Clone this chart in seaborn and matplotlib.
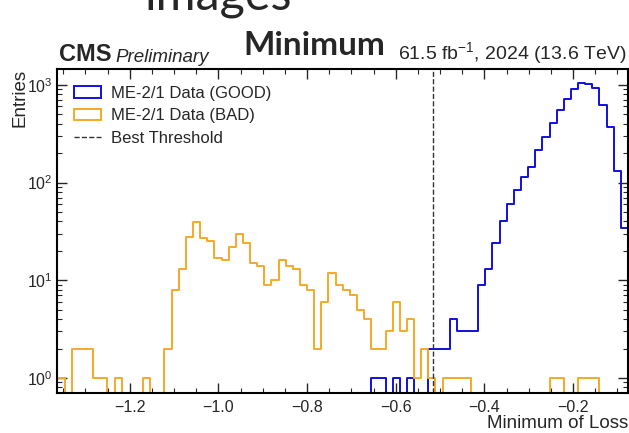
import numpy as np
import pandas as pd
import matplotlib
matplotlib.use("Agg")
import matplotlib.pyplot as plt
import matplotlib.ticker as mticker
from matplotlib.patches import Patch
from matplotlib.lines import Line2D
import seaborn as sns

# histogram binning (80 equal bins over the plotted range)
X_LO, X_HI, N_BINS = -1.363, -0.076, 80
THRESHOLD = -0.516

# entries per bin
good_counts = [0, 0, 0, 0, 0, 0, 0, 0, 0, 0,
               0, 0, 0, 0, 0, 0, 0, 0, 0, 0,
               0, 0, 0, 0, 0, 0, 0, 0, 0, 0,
               0, 0, 0, 0, 0, 0, 0, 0, 0, 0,
               0, 0, 0, 0, 1, 1, 0, 1, 0, 1,
               0, 0, 2, 2, 2, 4, 3, 3, 3, 9,
               13, 24, 40, 60, 84, 113, 145, 214, 295, 405,
               550, 717, 908, 1045, 1021, 936, 627, 373, 130, 34]
bad_counts = [1, 0, 2, 2, 2, 1, 1, 0, 1, 0,
              0, 0, 1, 0, 0, 2, 8, 13, 28, 39,
              27, 25, 17, 16, 22, 30, 24, 15, 14, 9,
              10, 16, 14, 13, 9, 8, 2, 6, 12, 9,
              8, 7, 5, 4, 2, 2, 3, 6, 3, 4,
              1, 2, 1, 0, 1, 1, 1, 1, 0, 0,
              0, 0, 0, 0, 0, 0, 0, 0, 0, 1,
              1, 0, 0, 1, 1, 1, 0, 0, 0, 0]

labels = ["ME-2/1 Data (GOOD)", "ME-2/1 Data (BAD)", "Best Threshold"]
colors = ["#1010e0", "#f7a928"]

sns.set_style("ticks")
plt.rcParams["font.family"] = ["Liberation Sans", "DejaVu Sans"]
plt.rcParams["mathtext.fontset"] = "custom"
plt.rcParams["mathtext.rm"] = "Liberation Sans"
plt.rcParams["mathtext.it"] = "Liberation Sans:italic"
plt.rcParams["mathtext.bf"] = "Liberation Sans:bold"

edges = np.linspace(X_LO, X_HI, N_BINS + 1)
centers = 0.5 * (edges[:-1] + edges[1:])
df = pd.DataFrame({"loss": centers, "good": good_counts, "bad": bad_counts})

fig = plt.figure(figsize=(6.29, 4.33), dpi=100)
ax = fig.add_axes([0.0914, 0.0931, 0.9070, 0.7475])

sns.histplot(data=df, x="loss", weights="good", bins=list(edges), element="step",
             fill=False, color=colors[0], linewidth=1.4, ax=ax)
sns.histplot(data=df, x="loss", weights="bad", bins=list(edges), element="step",
             fill=False, color=colors[1], linewidth=1.4, ax=ax)
ax.axvline(THRESHOLD, color="#333333", linestyle="--", linewidth=1.0)

ax.set_yscale("log")
ax.set_xlim(X_LO, X_HI)
ax.set_ylim(0.707, 1450)

# CMS-like ticks
ax.xaxis.set_major_locator(mticker.MultipleLocator(0.2))
ax.xaxis.set_minor_locator(mticker.MultipleLocator(0.05))
ax.yaxis.set_major_locator(mticker.LogLocator(base=10))
ax.yaxis.set_minor_locator(mticker.LogLocator(base=10, subs=np.arange(2, 10)))
ax.yaxis.set_minor_formatter(mticker.NullFormatter())
ax.tick_params(which="both", direction="in", top=True, right=True, labelsize=11.5)
ax.tick_params(which="major", length=7, width=1.0)
ax.tick_params(which="minor", length=3.5, width=0.8)
ax.tick_params(axis="x", pad=5)
for s in ax.spines.values():
    s.set_linewidth(1.5)
    s.set_color("black")

ax.set_xlabel("Minimum of Loss", loc="right", fontsize=13.5, labelpad=0)
ax.set_ylabel("Entries", loc="top", fontsize=13.5)
ax.yaxis.set_label_coords(-0.051, 1.0)

handles = [Patch(facecolor="none", edgecolor=colors[0], linewidth=1.4),
           Patch(facecolor="none", edgecolor=colors[1], linewidth=1.4),
           Line2D([0], [0], color="#333333", linestyle="--", linewidth=1.0)]
ax.legend(handles, labels, loc="upper left", frameon=False, fontsize=12,
          handlelength=1.6, handletextpad=0.6, labelspacing=0.45,
          borderaxespad=0.6)

# experiment label
cms = ax.text(0.003, 1.008, "CMS", transform=ax.transAxes, fontsize=17,
              fontweight="bold", va="bottom", ha="left")
ax.annotate("Preliminary", xy=(1, 0), xycoords=cms, xytext=(3, 0),
            textcoords="offset points", fontsize=13.5, style="italic",
            va="bottom", ha="left")
ax.text(0.997, 1.008, r"61.5 fb$^{-1}$, 2024 (13.6 TeV)", transform=ax.transAxes,
        fontsize=14, va="bottom", ha="right")

# slide header text above the plot
fig.text(0.50, 0.873, "Minimum", fontsize=24, fontweight="bold",
         family=["Lato", "DejaVu Sans"], ha="center", va="baseline")
fig.text(0.23, 0.977, "images", fontsize=35, family=["Lato", "DejaVu Sans"],
         ha="left", va="baseline")

fig.savefig("out.png", dpi=100, facecolor="white")
